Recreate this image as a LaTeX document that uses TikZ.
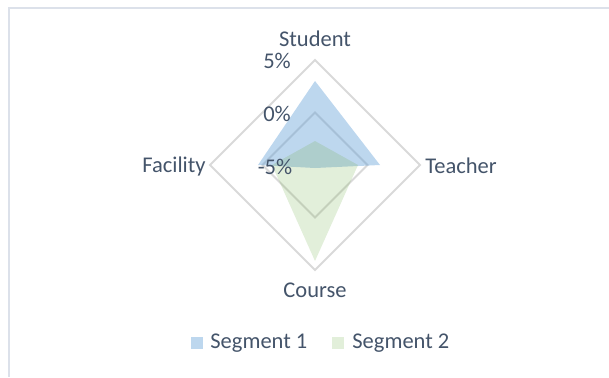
\documentclass[tikz,border=0pt]{standalone}
\usepackage{fontspec}
\setmainfont{Carlito}
\definecolor{gridgray}{HTML}{D9D9D9}
\definecolor{labelgray}{HTML}{44546A}
\definecolor{segone}{HTML}{5B9BD5}
\definecolor{segtwo}{HTML}{70AD47}
\definecolor{framegray}{HTML}{DCE1EA}
\tikzset{
  lbl/.style={text=labelgray, font=\fontsize{11.25}{13}\selectfont, inner sep=0pt},
  ring/.style={gridgray, line width=0.9pt},
}
\begin{document}
\begin{tikzpicture}[x=0.5pt, y=0.5pt]
    \useasboundingbox (0,0) rectangle (609,377);
    \draw[framegray, line width=1pt] (609,369) -- (9,369) -- (9,0);

    \begin{scope}[shift={(315,212)}]
        % rings at 5% and 0%
        \draw[ring] (90:105) -- (0:105) -- (-90:105) -- (180:105) -- cycle;
        \draw[ring] (90:52.5) -- (0:52.5) -- (-90:52.5) -- (180:52.5) -- cycle;

        % Segment 1 and Segment 2
        \fill[segone, opacity=0.4] (90:84) -- (0:65) -- (-90:3) -- (180:57) -- cycle;
        \fill[segtwo, opacity=0.2] (90:24) -- (0:43) -- (-90:96) -- (180:43) -- cycle;
    \end{scope}

    \node[lbl] (student) at (315,338) {Student};
    \node[lbl, anchor=west] (teacher) at (425,211) {Teacher};
    \node[lbl] (course) at (315,87) {Course};
    \node[lbl, anchor=east] (facility) at (206,211) {Facility};

    \node[lbl] (tick5) at (277,316) {5\%};
    \node[lbl] (tick0) at (277,263) {0\%};
    \node[lbl] (tickm5) at (275,210) {-5\%};

    % legend
    \fill[segone, opacity=0.4] (191,28) rectangle (203,40);
    \node[lbl, anchor=west] (legone) at (210,34) {Segment 1};
    \fill[segtwo, opacity=0.2] (332,28) rectangle (344,40);
    \node[lbl, anchor=west] (legtwo) at (352,34) {Segment 2};
\end{tikzpicture}
\end{document}
